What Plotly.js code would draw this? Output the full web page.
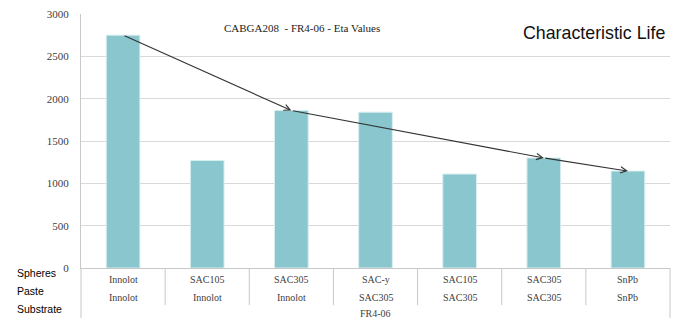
<!DOCTYPE html>
<html>
<head>
<meta charset="utf-8">
<script src="https://cdn.plot.ly/plotly-3.0.1.min.js"></script>
<style>html,body{margin:0;padding:0;background:#fff;}#chart{width:676px;height:318px;}</style>
</head>
<body>
<div id="chart"></div>
<script>
const spheres   = ["Innolot", "SAC105", "SAC305", "SAC-y", "SAC105", "SAC305", "SnPb"];
const paste     = ["Innolot", "Innolot", "Innolot", "SAC305", "SAC305", "SAC305", "SnPb"];
const substrate = "FR4-06";
const etaValues = [2750, 1270, 1860, 1840, 1110, 1300, 1145];
const arrowPath = [0, 2, 5, 6];   // indices of bars joined by the trend arrows
const rowNames  = ["Spheres", "Paste", "Substrate"];
const yTicks    = [0, 500, 1000, 1500, 2000, 2500, 3000];

const idx = spheres.map((_, i) => i);
const serif = "Liberation Serif, Times New Roman, serif";
const sans = "Liberation Sans, Arial, sans-serif";
const lineCol = "#c8c8c8";

const annotations = [];
idx.forEach(i => {
  annotations.push({x: i, y: -0.047, xref: "x", yref: "paper", text: spheres[i], showarrow: false,
    font: {family: serif, size: 10, color: "#404040"}, yanchor: "middle"});
  annotations.push({x: i, y: -0.118, xref: "x", yref: "paper", text: paste[i], showarrow: false,
    font: {family: serif, size: 10, color: "#404040"}, yanchor: "middle"});
});
annotations.push({x: (idx.length - 1) / 2, y: -0.178, xref: "x", yref: "paper", text: substrate, showarrow: false,
  font: {family: serif, size: 10, color: "#404040"}, yanchor: "middle"});
const rowY = [-0.02, -0.091, -0.16];
rowNames.forEach((n, k) => {
  annotations.push({x: -0.112, y: rowY[k], xref: "paper", yref: "paper", text: n, showarrow: false,
    xanchor: "left", yanchor: "middle", font: {family: sans, size: 10.5, color: "#000"}});
});
annotations.push({x: 0.24, y: 0.943, xref: "paper", yref: "paper", text: "CABGA208  - FR4-06 - Eta Values",
  showarrow: false, xanchor: "left", yanchor: "middle", font: {family: serif, size: 11, color: "#222"}});
annotations.push({x: 0.995, y: 0.925, xref: "paper", yref: "paper", text: "Characteristic Life",
  showarrow: false, xanchor: "right", yanchor: "middle", font: {family: sans, size: 17.8, color: "#111"}});
for (let k = 0; k < arrowPath.length - 1; k++) {
  const a = arrowPath[k], b = arrowPath[k + 1];
  annotations.push({x: b, y: etaValues[b], ax: a, ay: etaValues[a], xref: "x", yref: "y", axref: "x", ayref: "y",
    text: "", showarrow: true, arrowhead: 5, arrowsize: 1.1, arrowwidth: 1.1, arrowcolor: "#333", standoff: 0, startstandoff: 0});
}

const shapes = [];
for (let i = 0; i < idx.length - 1; i++) {
  shapes.push({type: "line", xref: "x", yref: "paper", x0: i + 0.5, x1: i + 0.5, y0: 0, y1: -0.146,
    line: {color: lineCol, width: 1}});
}
shapes.push({type: "line", xref: "paper", yref: "paper", x0: 0, x1: 0, y0: 0, y1: -0.2, line: {color: lineCol, width: 1}});
shapes.push({type: "line", xref: "paper", yref: "paper", x0: 1, x1: 1, y0: 0, y1: -0.2, line: {color: lineCol, width: 1}});

Plotly.newPlot("chart", [{
  type: "bar", x: idx, y: etaValues,
  marker: {color: "#8ac6cd", line: {color: "#d8eef0", width: 1}},
  width: 0.4, hoverinfo: "skip"
}], {
  width: 676, height: 318,
  margin: {l: 81, r: 6, t: 14, b: 50},
  paper_bgcolor: "#fff", plot_bgcolor: "#fff",
  showlegend: false,
  xaxis: {range: [-0.5, idx.length - 0.5], showticklabels: false, ticks: "", showgrid: false,
    zeroline: false, showline: true, linecolor: lineCol, linewidth: 1, fixedrange: true},
  yaxis: {range: [0, 3000], tickvals: yTicks, ticktext: yTicks.map(String), showgrid: true, gridcolor: "#d9d9d9",
    gridwidth: 1, zeroline: false, showline: true, linecolor: lineCol, linewidth: 1, ticks: "",
    ticklabelstandoff: 9, tickfont: {family: serif, size: 11, color: "#404040"}, fixedrange: true},
  annotations: annotations,
  shapes: shapes
}, {displayModeBar: false, staticPlot: true});
</script>
</body>
</html>
